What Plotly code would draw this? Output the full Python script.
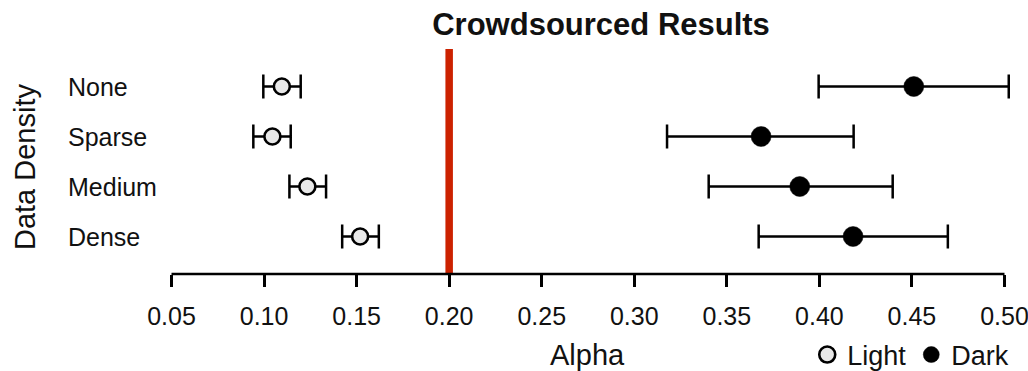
import plotly.graph_objects as go

# ---- data ----
categories = ["None", "Sparse", "Medium", "Dense"]
light_alpha = [0.1096, 0.1045, 0.1234, 0.1519]
light_low = [0.0996, 0.0942, 0.1137, 0.1422]
light_high = [0.1198, 0.1144, 0.1335, 0.1620]
dark_alpha = [0.4510, 0.3685, 0.3894, 0.4182]
dark_low = [0.3996, 0.3177, 0.3402, 0.3672]
dark_high = [0.5023, 0.4185, 0.4396, 0.4694]
tick_vals = [0.05, 0.10, 0.15, 0.20, 0.25, 0.30, 0.35, 0.40, 0.45, 0.50]
tick_text = ["0.05", "0.10", "0.15", "0.20", "0.25", "0.30", "0.35", "0.40", "0.45", "0.50"]
reference_alpha = 0.20

FONT = "Liberation Sans, Arial, sans-serif"

W, H = 1028, 371

fig = go.Figure()

def errs(c, lo, hi):
    return [h - v for v, h in zip(c, hi)], [v - l for v, l in zip(c, lo)]

up, dn = errs(light_alpha, light_low, light_high)
fig.add_trace(go.Scatter(
    x=light_alpha, y=categories, mode="markers", name="Light",
    marker=dict(size=16, color="#e8e8e8", line=dict(color="black", width=2.6)),
    error_x=dict(type="data", symmetric=False, array=up, arrayminus=dn,
                 color="black", thickness=2.5, width=12),
))
up, dn = errs(dark_alpha, dark_low, dark_high)
fig.add_trace(go.Scatter(
    x=dark_alpha, y=categories, mode="markers", name="Dark",
    marker=dict(size=20, color="black", line=dict(color="black", width=0.5)),
    error_x=dict(type="data", symmetric=False, array=up, arrayminus=dn,
                 color="black", thickness=2.5, width=12),
))

# reference line and axis line
fig.add_shape(type="line", xref="x", yref="paper", x0=reference_alpha, x1=reference_alpha,
              y0=0, y1=1, line=dict(color="#cc2200", width=7.5), layer="below")
fig.add_shape(type="line", xref="x", yref="paper", x0=tick_vals[0], x1=tick_vals[-1],
              y0=0, y1=0, line=dict(color="black", width=2.5))

# category labels (left aligned)
for c in categories:
    fig.add_annotation(x=-0.1, xref="paper", y=c, yref="y", text=c, showarrow=False,
                       xanchor="left", yanchor="middle",
                       font=dict(family=FONT, size=25, color="#111111"))

fig.add_annotation(x=-0.1471, xref="paper", y=0.4756, yref="paper", text="Data Density",
                   textangle=-90, showarrow=False, xanchor="center", yanchor="middle",
                   font=dict(family=FONT, size=29, color="#111111"))
fig.add_annotation(x=0.4989, xref="paper", y=-0.36, yref="paper", text="Alpha",
                   showarrow=False, xanchor="center", yanchor="middle",
                   font=dict(family=FONT, size=29, color="#111111"))

fig.update_layout(
    width=W, height=H,
    margin=dict(l=153, r=5, t=49, b=97, autoexpand=False),
    paper_bgcolor="white", plot_bgcolor="white",
    title=dict(text="<b>Crowdsourced Results</b>", x=0.515, xref="paper", xanchor="center",
               y=1 - 24 / H, yref="container", yanchor="middle",
               font=dict(family=FONT, size=31, color="#111111")),
    xaxis=dict(range=[0.04, 0.51], tickvals=tick_vals, ticktext=tick_text,
               showgrid=False, zeroline=False, showline=False,
               ticks="outside", ticklen=12, tickwidth=2.5, tickcolor="black",
               ticklabelstandoff=8, ticklabeloverflow="allow",
               tickfont=dict(family=FONT, size=25, color="#111111")),
    yaxis=dict(type="category", categoryorder="array", categoryarray=categories[::-1],
               range=[-0.75, 3.75], showgrid=False, zeroline=False, showline=False,
               showticklabels=False, ticks=""),
    legend=dict(orientation="h", x=0.752, xanchor="left", y=-0.36, yanchor="middle",
                font=dict(family=FONT, size=27, color="#111111"),
                bgcolor="rgba(0,0,0,0)", traceorder="normal"),
    showlegend=True,
)

# remove the default page margin so the figure sits at the window's top-left corner
fig.write_html(
    "out.html",
    config={"displayModeBar": False},
    post_script="document.body.style.margin='0';"
                "document.body.style.overflow='hidden';"
                "document.documentElement.style.overflow='hidden';",
)
